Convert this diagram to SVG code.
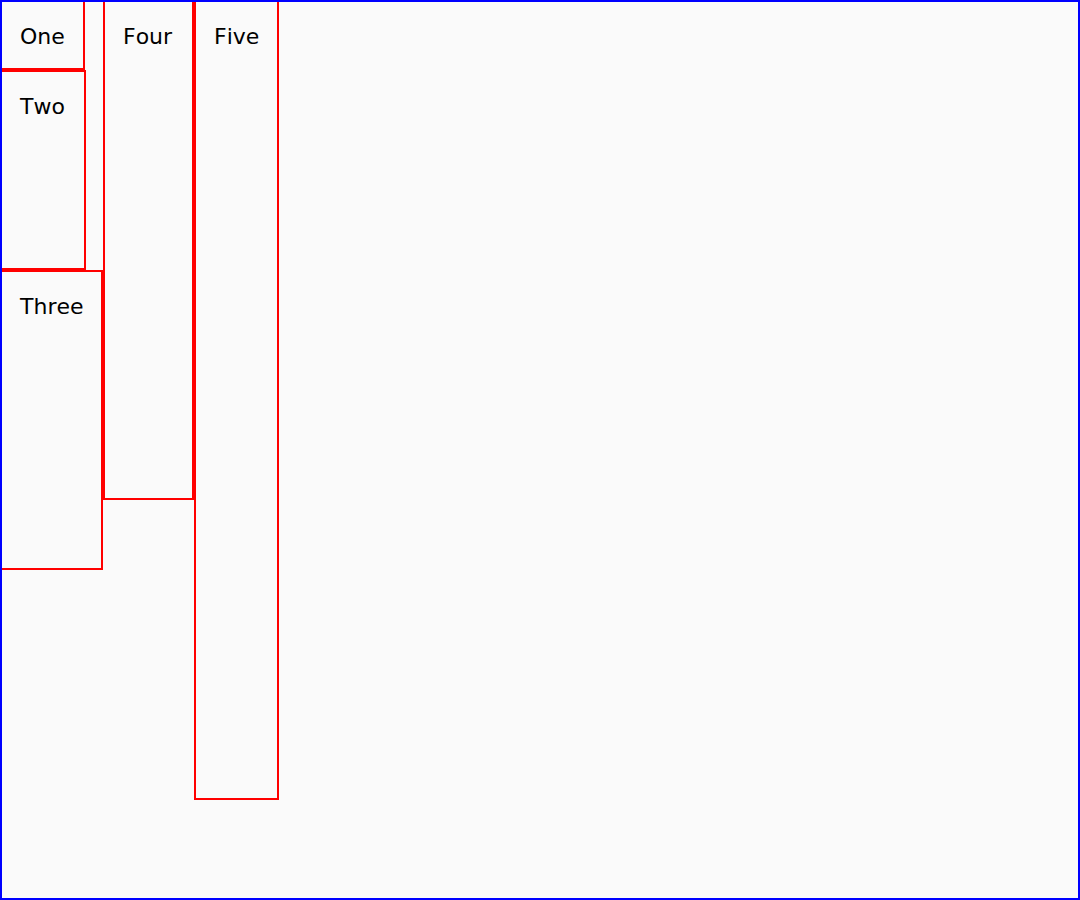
<svg xmlns="http://www.w3.org/2000/svg" width="1080" height="900" viewBox="0 0 1080 900">
<style>
.box{fill:none;stroke:#ff0000;stroke-width:2}
.lbl{font-family:"DejaVu Sans",sans-serif;font-size:22px;fill:#000;font-kerning:none}
</style>
<rect x="0" y="0" width="1080" height="900" fill="#fafafa"/>
<g id="one"><rect class="box" x="1" y="1" width="83" height="68"/><text class="lbl" x="20" y="44">One</text></g>
<g id="two"><rect class="box" x="1" y="71" width="84" height="198"/><text class="lbl" x="20" y="114">Two</text></g>
<g id="three"><rect class="box" x="1" y="271" width="101" height="298"/><text class="lbl" x="20" y="314">Three</text></g>
<g id="four"><rect class="box" x="104" y="1" width="89" height="498"/><text class="lbl" x="123" y="44">Four</text></g>
<g id="five"><rect class="box" x="195" y="1" width="83" height="798"/><text class="lbl" x="214" y="44">Five</text></g>
<g id="connectors"></g>
<rect x="1" y="1" width="1078" height="898" fill="none" stroke="#0000ff" stroke-width="2"/>
</svg>
